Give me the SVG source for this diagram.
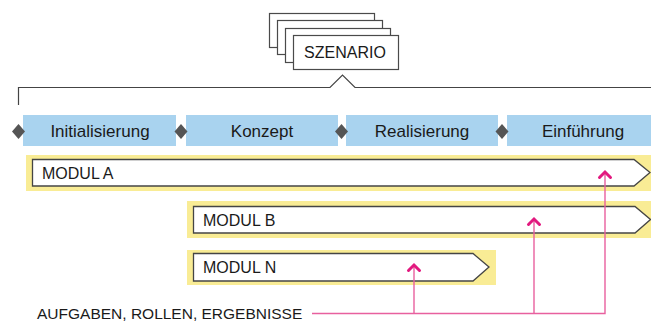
<svg xmlns="http://www.w3.org/2000/svg" width="651" height="323" viewBox="0 0 651 323">
  <style>
    .lbl { font-family: "Liberation Sans", Arial, sans-serif; fill: #1a1a1a; }
    .card { fill: #ffffff; stroke: #4a4a4a; stroke-width: 1.2; }
    .phase { fill: #a9d3ef; }
    .dia { fill: #555555; }
    .hl { fill: #f9ec95; }
    .mod { fill: #ffffff; stroke: #454545; stroke-width: 1.3; }
    .pin { fill: none; stroke: #e8609e; stroke-width: 1.4; }
    .chev { fill: none; stroke: #e2197f; stroke-width: 3; stroke-linecap: round; stroke-linejoin: miter; }
  </style>

  <!-- stacked scenario cards -->
  <g id="szenario">
    <rect class="card" x="269.5" y="13.5" width="105" height="34"/>
    <rect class="card" x="277.5" y="20.5" width="105" height="34"/>
    <rect class="card" x="285.5" y="28.5" width="105" height="34"/>
    <rect class="card" x="293.5" y="35.5" width="105" height="34"/>
    <text class="lbl" x="345" y="58" font-size="16" text-anchor="middle">SZENARIO</text>
  </g>

  <!-- bracket spanning all phases -->
  <g id="klammer">
    <path d="M18.5 105 V87.5 H330 L342.5 75 L355 87.5 H651" fill="none" stroke="#444444" stroke-width="1.2"/>
  </g>

  <!-- phases -->
  <g id="phase-initialisierung">
    <rect class="phase" x="23" y="115" width="153" height="31"/>
    <text class="lbl" x="100" y="136.5" font-size="17" text-anchor="middle">Initialisierung</text>
  </g>
  <g id="phase-konzept">
    <rect class="phase" x="186" y="115" width="152" height="31"/>
    <text class="lbl" x="262" y="136.5" font-size="17" text-anchor="middle">Konzept</text>
  </g>
  <g id="phase-realisierung">
    <rect class="phase" x="346" y="115" width="152" height="31"/>
    <text class="lbl" x="422" y="136.5" font-size="17" text-anchor="middle">Realisierung</text>
  </g>
  <g id="phase-einfuehrung">
    <rect class="phase" x="507" y="115" width="144" height="31"/>
    <text class="lbl" x="583" y="136.5" font-size="17" text-anchor="middle">Einführung</text>
  </g>
  <g id="meilensteine">
    <path class="dia" d="M18.5 124 L25 131.5 L18.5 139 L12 131.5 Z"/>
    <path class="dia" d="M181 124 L187.5 131.5 L181 139 L174.5 131.5 Z"/>
    <path class="dia" d="M341.5 124 L348 131.5 L341.5 139 L335 131.5 Z"/>
    <path class="dia" d="M502 124 L508.5 131.5 L502 139 L495.5 131.5 Z"/>
  </g>

  <!-- modules -->
  <g id="modul-a">
    <rect class="hl" x="26" y="155" width="625" height="36"/>
    <path class="mod" d="M32.5 159.5 H634 L650 172.5 L634 186 H32.5 Z"/>
    <text class="lbl" x="42" y="179" font-size="16">MODUL A</text>
  </g>
  <g id="modul-b">
    <rect class="hl" x="187" y="201" width="464" height="37"/>
    <path class="mod" d="M193.5 206.5 H635 L650.5 219.5 L635 233 H193.5 Z"/>
    <text class="lbl" x="203" y="225.5" font-size="16">MODUL B</text>
  </g>
  <g id="modul-n">
    <rect class="hl" x="187" y="250" width="309" height="35"/>
    <path class="mod" d="M193.5 253.5 H473 L489 267 L473 281 H193.5 Z"/>
    <text class="lbl" x="203" y="273" font-size="16">MODUL N</text>
  </g>

  <!-- connectors to the deliverables label -->
  <g id="verbinder">
    <path class="pin" d="M312 313.5 H605 V174"/>
    <path class="pin" d="M534 313.5 V221"/>
    <path class="pin" d="M414 313.5 V267"/>
    <path class="chev" d="M599.5 177.5 L605 172 L610.5 177.5"/>
    <path class="chev" d="M528.5 224.5 L534 219 L539.5 224.5"/>
    <path class="chev" d="M408.5 270.5 L414 265 L419.5 270.5"/>
  </g>

  <g id="ergebnisse">
    <text class="lbl" x="37" y="319" font-size="15.5">AUFGABEN, ROLLEN, ERGEBNISSE</text>
  </g>
</svg>
